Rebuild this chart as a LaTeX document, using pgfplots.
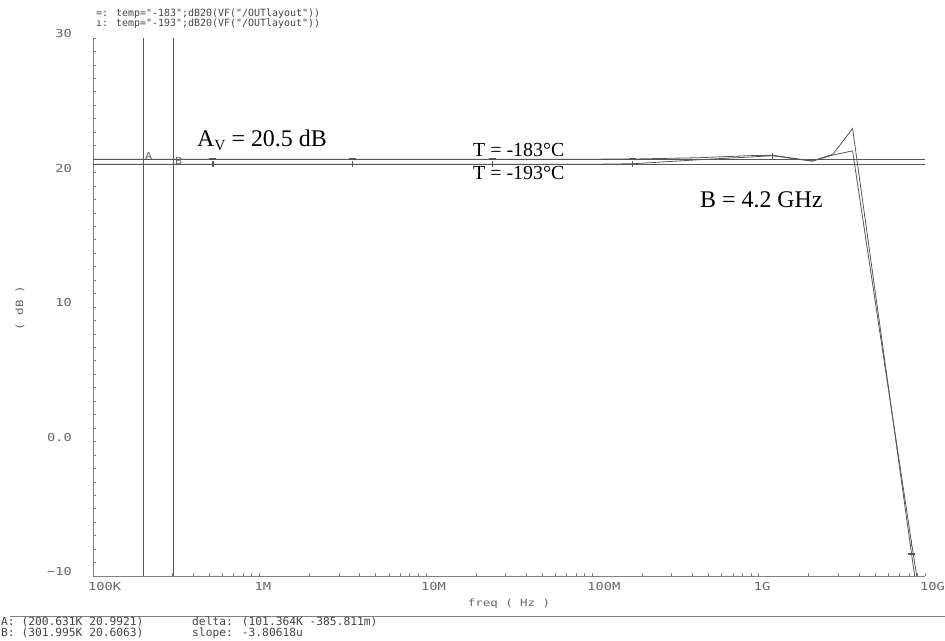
\documentclass[border=0pt]{standalone}
\usepackage{fontspec}
\setmainfont{Liberation Serif}
\newfontfamily\cadmono{DejaVu Sans Mono}
\newfontfamily\tickfont[FakeStretch=1.25]{DejaVu Sans Mono}
\usepackage{pgfplots}
\pgfplotsset{compat=1.18}
\definecolor{trace}{HTML}{555555}
\definecolor{axisgray}{HTML}{808080}
\definecolor{labelgray}{HTML}{666666}
\definecolor{textgray}{HTML}{444444}

\begin{document}
\begin{tikzpicture}
\begin{axis}[
    at={(93bp,65bp)}, anchor=south west,
    scale only axis, width=832bp, height=538bp,
    xmode=log, xmin=1e5, xmax=1e10, ymin=-10, ymax=30,
    axis lines=left,
    axis line style={-, draw=axisgray, line width=0.7pt},
    tick align=inside,
    major tick length=3bp, minor tick length=3bp,
    tick style={draw=axisgray, line width=0.6pt},
    xtick={1e5,1e6,1e7,1e8,1e9,1e10},
    xticklabels={100K,1M,10M,100M,1G,10G},
    minor xtick={2e5,3e5,4e5,5e5,6e5,7e5,8e5,9e5,
                 2e6,3e6,4e6,5e6,6e6,7e6,8e6,9e6,
                 2e7,3e7,4e7,5e7,6e7,7e7,8e7,9e7,
                 2e8,3e8,4e8,5e8,6e8,7e8,8e8,9e8,
                 2e9,3e9,4e9,5e9,6e9,7e9,8e9,9e9},
    ytick={-10,0,10,20,30},
    yticklabels={−10,0.0,10,20,30},
    minor y tick num=9,
    every tick label/.append style={font=\tickfont\fontsize{11}{12}\selectfont, text=labelgray, inner sep=0pt},
    xticklabel style={anchor=north west, xshift=-5bp, yshift=-6bp},
    yticklabel style={anchor=east, xshift=-21bp, yshift=4bp},
]
% cursor lines A and B
\addplot[trace, line width=0.6pt] coordinates {(200631,-10) (200631,30)};
\addplot[trace, line width=0.6pt] coordinates {(301995,-10) (301995,30)};
\addplot[trace, line width=0.6pt] coordinates {(1e5,20.9921) (1e10,20.9921)};
\addplot[trace, line width=0.6pt] coordinates {(1e5,20.6063) (1e10,20.6063)};

% temp = -183
\addplot[trace, line width=0.8pt] coordinates {
    (1e5,20.99) (1e8,20.99) (1.75e8,21.0) (4.4e8,21.1) (8.8e8,21.25)
    (1.21e9,21.28) (2.1e9,20.86) (2.8e9,21.36) (3.67e9,23.27)
    (8.3e9,-8.36) (1e10,-15.4)
};
% temp = -193
\addplot[trace, line width=0.8pt] coordinates {
    (1e5,20.61) (1e8,20.61) (1.75e8,20.65) (4.4e8,20.95) (8.8e8,21.15)
    (1.21e9,21.25) (2.1e9,20.84) (2.8e9,21.3) (3.67e9,21.61)
    (8.3e9,-7.55) (1e10,-13.9)
};
% trace symbols
\addplot[only marks, mark=-, mark size=3.5bp, trace, line width=1.4pt] coordinates {
    (5.26e5,20.99) (3.64e6,20.99) (2.53e7,20.99) (1.75e8,21.0) (1.21e9,21.28) (8.3e9,-8.36)
};
\addplot[only marks, mark=|, mark size=3bp, trace, line width=1.2pt] coordinates {
    (5.26e5,20.61) (3.64e6,20.61) (2.53e7,20.61) (1.75e8,20.65) (1.21e9,21.25) (8.3e9,-7.55)
};
\end{axis}

% legend at the top
\node[anchor=west, inner sep=0pt, text=textgray, font=\cadmono\fontsize{10}{11}\selectfont]
    at (96bp,627bp) {=: temp="-183";dB20(VF("/OUTlayout"))};
\node[anchor=west, inner sep=0pt, text=textgray, font=\cadmono\fontsize{10}{11}\selectfont]
    at (96bp,617bp) {ı: temp="-193";dB20(VF("/OUTlayout"))};

% axis titles
\node[rotate=90, inner sep=0pt, text=labelgray, font=\tickfont\fontsize{10}{11}\selectfont]
    at (20bp,333bp) {( dB )};
\node[inner sep=0pt, text=labelgray, font=\tickfont\fontsize{10}{11}\selectfont]
    at (509bp,37bp) {freq ( Hz )};

% cursor names
\node[anchor=south west, inner sep=0pt, text=labelgray, font=\tickfont\fontsize{9.5}{10}\selectfont]
    at (145bp,481bp) {A};
\node[anchor=west, inner sep=0pt, text=labelgray, font=\tickfont\fontsize{9.5}{10}\selectfont]
    at (175bp,480bp) {B};

% annotations
\node[anchor=base west, inner sep=0pt, font=\fontsize{24}{27}\selectfont]
    at (197bp,494bp) {A\raisebox{-0.3ex}{\fontsize{15.5}{16}\selectfont V} = 20.5 dB};
\node[anchor=base west, inner sep=0pt, font=\fontsize{20}{23}\selectfont]
    at (473bp,484bp) {T = -183°C};
\node[anchor=base west, inner sep=0pt, font=\fontsize{20}{23}\selectfont]
    at (473bp,461bp) {T = -193°C};
\node[anchor=base west, inner sep=0pt, font=\fontsize{24}{27}\selectfont]
    at (700bp,433bp) {B = 4.2 GHz};

% status area
\draw[axisgray, line width=0.7pt] (10bp,25bp) -- (945bp,25bp);
\node[anchor=west, inner sep=0pt, text=textgray, font=\cadmono\fontsize{11.3}{12}\selectfont]
    at (1bp,19bp) {A: (200.631K 20.9921)};
\node[anchor=west, inner sep=0pt, text=textgray, font=\cadmono\fontsize{11.3}{12}\selectfont]
    at (1bp,8bp) {B: (301.995K 20.6063)};
\node[anchor=west, inner sep=0pt, text=textgray, font=\cadmono\fontsize{11.3}{12}\selectfont]
    at (192bp,19bp) {delta: (101.364K -385.811m)};
\node[anchor=west, inner sep=0pt, text=textgray, font=\cadmono\fontsize{11.3}{12}\selectfont]
    at (192bp,8bp) {slope: -3.80618u};

\pgfresetboundingbox
\path[use as bounding box] (0bp,0bp) rectangle (945bp,641bp);
\end{tikzpicture}
\end{document}
